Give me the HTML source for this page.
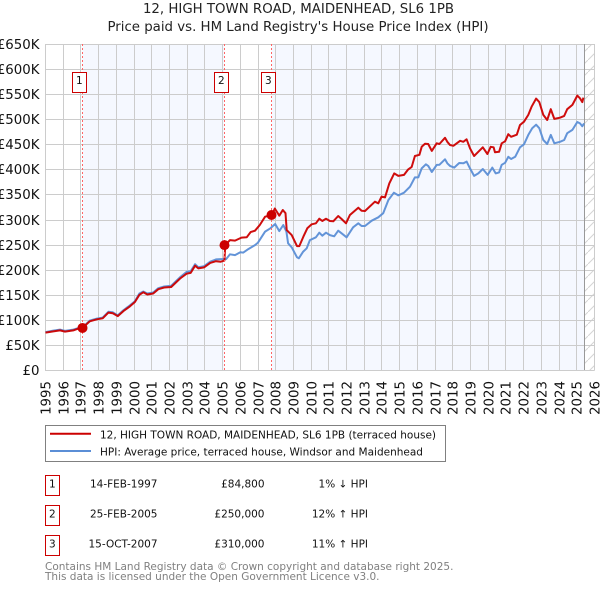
<!DOCTYPE html>
<html lang="en">
<head>
<meta charset="utf-8">
<title>12, High Town Road, Maidenhead price chart</title>
<style>
html,body{margin:0;padding:0;background:#fff;width:600px;height:590px;overflow:hidden}
svg{display:block;font-family:"DejaVu Sans","Liberation Sans",sans-serif}
</style>
</head>
<body>
<svg id="chart" xmlns="http://www.w3.org/2000/svg" width="600" height="590" viewBox="0 0 600 590">
<defs>
<pattern id="hatch" width="12" height="12" patternUnits="userSpaceOnUse">
<path d="M0 12 L12 0" stroke="#d4d4d4" stroke-width="1" fill="none"/>
</pattern>
</defs>
<rect width="600" height="590" fill="#fff"/>
<text x="298.5" y="13" font-size="13.33" text-anchor="middle" fill="#222">12, HIGH TOWN ROAD, MAIDENHEAD, SL6 1PB</text>
<text x="298" y="31" font-size="13.33" text-anchor="middle" fill="#222">Price paid vs. HM Land Registry's House Price Index (HPI)</text>
<g id="bands"></g>
<g id="grid"></g>
<g id="ylabels"></g>
<g id="xlabels"></g>
<g id="series"></g>
<g id="sales"></g>

<g>
<rect x="45.5" y="425.5" width="400" height="36" fill="#fff" stroke="#808080" stroke-width="1"/>
<line x1="50" x2="91" y1="433.7" y2="433.7" stroke="#cc0000" stroke-width="2"/>
<line x1="50" x2="91" y1="451" y2="451" stroke="#5b8ed6" stroke-width="2"/>
<text x="100" y="438.3" font-size="10.5" fill="#111">12, HIGH TOWN ROAD, MAIDENHEAD, SL6 1PB (terraced house)</text>
<text x="100" y="455.3" font-size="10.5" fill="#111">HPI: Average price, terraced house, Windsor and Maidenhead</text>
</g>

<g font-size="10.5" fill="#111">
<g>
<rect x="45.5" y="475.5" width="14" height="20" fill="#fff" stroke="#cc0000" stroke-width="1"/>
<text x="52.3" y="487.3" text-anchor="middle">1</text>
<text x="157.5" y="487.3" text-anchor="end">14-FEB-1997</text>
<text x="264.5" y="487.3" text-anchor="end">£84,800</text>
<text x="368" y="487.3" text-anchor="end">1% ↓ HPI</text>
</g>
<g>
<rect x="45.5" y="505.5" width="14" height="20" fill="#fff" stroke="#cc0000" stroke-width="1"/>
<text x="52.3" y="517.3" text-anchor="middle">2</text>
<text x="157.5" y="517.3" text-anchor="end">25-FEB-2005</text>
<text x="264.5" y="517.3" text-anchor="end">£250,000</text>
<text x="368" y="517.3" text-anchor="end">12% ↑ HPI</text>
</g>
<g>
<rect x="45.5" y="535.5" width="14" height="20" fill="#fff" stroke="#cc0000" stroke-width="1"/>
<text x="52.3" y="547.3" text-anchor="middle">3</text>
<text x="157.5" y="547.3" text-anchor="end">15-OCT-2007</text>
<text x="264.5" y="547.3" text-anchor="end">£310,000</text>
<text x="368" y="547.3" text-anchor="end">11% ↑ HPI</text>
</g>
</g>

<text x="45" y="570" font-size="10.5" fill="#808080">Contains HM Land Registry data © Crown copyright and database right 2025.</text>
<text x="45" y="580" font-size="10.5" fill="#808080">This data is licensed under the Open Government Licence v3.0.</text>
</svg>

<script>
var yearTicks = [1995,1996,1997,1998,1999,2000,2001,2002,2003,2004,2005,2006,2007,2008,2009,2010,2011,2012,2013,2014,2015,2016,2017,2018,2019,2020,2021,2022,2023,2024,2025,2026];
var priceTicks = [0,50,100,150,200,250,300,350,400,450,500,550,600,650];
var priceTickLabels = ["£0","£50K","£100K","£150K","£200K","£250K","£300K","£350K","£400K","£450K","£500K","£550K","£600K","£650K"];

var paidDates = [1995.0,1995.44,1995.82,1996.1,1996.57,1996.85,1997.12,1997.25,1997.5,1997.9,1998.23,1998.55,1998.8,1999.08,1999.4,1999.77,2000.05,2000.3,2000.52,2000.75,2001.08,2001.37,2001.7,2002.1,2002.6,2002.97,2003.2,2003.45,2003.63,2003.95,2004.3,2004.63,2004.9,2005.1,2005.15,2005.42,2005.7,2006.07,2006.36,2006.58,2006.83,2007.1,2007.4,2007.79,2007.95,2008.2,2008.4,2008.55,2008.62,2008.9,2009.2,2009.33,2009.56,2009.78,2010.03,2010.27,2010.46,2010.63,2010.84,2011.06,2011.25,2011.53,2011.72,2011.97,2012.19,2012.66,2012.85,2013.04,2013.6,2013.79,2013.98,2014.17,2014.41,2014.69,2014.92,2015.24,2015.48,2015.68,2015.86,2016.11,2016.24,2016.43,2016.61,2016.81,2017.09,2017.24,2017.56,2017.69,2017.84,2018.03,2018.41,2018.59,2018.78,2018.97,2019.2,2019.44,2019.69,2019.95,2020.14,2020.3,2020.38,2020.61,2020.76,2020.95,2021.13,2021.29,2021.61,2021.79,2022.02,2022.26,2022.45,2022.7,2022.88,2023.11,2023.33,2023.53,2023.73,2024.05,2024.29,2024.46,2024.75,2025.03,2025.18,2025.31,2025.37];
var paidValues = [75.5,78,80,77.5,80,83.5,84.8,90,98,102,104,115.5,114,108.5,118.5,128,136.5,151,156,151.5,153.5,162,165.5,166.5,183.5,193,194.5,209,203.5,205.5,214.5,218,217,219,250,260,259,265,265.6,276,278.8,290,306.7,310,323,308.7,320,313.5,280,270,248,248,267,283.5,291.5,293.5,302.7,298,302.7,298,297.5,308,302,293.5,310,324.6,318.6,318,336.6,333.4,346.6,345,373,393,388,390,401,406,427.7,430,446,452,451.6,437.7,453,451.6,464,456,449.6,448,458,456,461,443,427.7,436,445,431.7,446,445,435,436,453,457,471,466,470,489.5,496,509.5,526,542,535,509.5,499.5,521,501.5,504,507.5,521,529.5,548,542.7,535,544];

var hpiDates = [1995.0,1995.44,1995.82,1996.1,1996.57,1996.85,1997.12,1997.25,1997.5,1997.9,1998.23,1998.55,1998.8,1999.08,1999.4,1999.77,2000.05,2000.3,2000.52,2000.75,2001.08,2001.37,2001.7,2002.1,2002.6,2002.97,2003.2,2003.45,2003.63,2003.95,2004.3,2004.63,2004.9,2005.2,2005.42,2005.7,2006.0,2006.17,2006.45,2006.83,2007.0,2007.4,2007.7,2007.97,2008.2,2008.43,2008.6,2008.7,2008.9,2009.2,2009.3,2009.55,2009.75,2009.93,2010.27,2010.46,2010.63,2010.84,2011.06,2011.3,2011.53,2011.72,2012.0,2012.37,2012.66,2012.85,2013.04,2013.42,2013.79,2014.07,2014.36,2014.67,2014.92,2015.24,2015.58,2015.86,2016.05,2016.24,2016.48,2016.61,2016.81,2017.09,2017.24,2017.56,2017.69,2017.84,2018.08,2018.36,2018.59,2018.78,2018.97,2019.2,2019.44,2019.69,2019.97,2020.23,2020.42,2020.61,2020.76,2020.95,2021.13,2021.29,2021.52,2021.79,2022.02,2022.26,2022.48,2022.7,2022.88,2023.11,2023.33,2023.53,2023.73,2024.05,2024.29,2024.46,2024.75,2025.03,2025.18,2025.31,2025.41];
var hpiValues = [76.5,79.5,81.5,79,81.5,84.5,85.6,91,99.5,103.5,105.5,117,116,110,120,130,138,153.5,157.5,153.5,155.5,164,167.5,169,186,196.5,198,212,206,208,217,221.5,222,222,231.7,230,235.6,235,242,250,255,277,283.5,292,278,290,277,253.6,245.6,225.7,223.7,237,243.6,260,265.6,274.8,268.8,274.8,270,267.6,278.8,273.6,265.6,285.5,293.5,288,288,298.7,305.5,313.5,340,354.5,349,354.5,366.5,385,385,403,411,407.8,395.8,409.8,410,421,413,407.8,404.5,413.7,413,416.5,403,388,393,401.8,390,404.5,393,395,410,414,426,421.7,426,445,451,469.6,483,490,483,459.6,451.6,469.6,453,456,459.6,473,479.6,495.5,492.7,487,492.7];

var saleDates = [1997.12,2005.15,2007.79];
var salePrices = [84.8,250,310];
var saleLabels = ["1","2","3"];
var lastDataDate = 2025.45;

var NS = "http://www.w3.org/2000/svg";
var plotLeft = 45, plotRight = 594, plotTop = 44, plotBottom = 370;
function xRaw(year){ return 45 + (year - 1995) * 17.71; }
function xScale(year){ return xRaw(year) + 0.5; }
function yRaw(value){ return 370 - value * 0.5016; }
function yScale(value){ return yRaw(value) + 0.5; }
function make(tag, attrs, parent){
  var el = document.createElementNS(NS, tag);
  for (var k in attrs) el.setAttribute(k, attrs[k]);
  parent.appendChild(el);
  return el;
}
function pathFrom(dates, values){
  return dates.map(function(d, i){
    return (i ? "L" : "M") + xScale(d).toFixed(1) + " " + yScale(values[i]).toFixed(1);
  }).join(" ");
}

var bands = document.getElementById("bands");
var grid = document.getElementById("grid");
var ylabels = document.getElementById("ylabels");
var xlabels = document.getElementById("xlabels");
var series = document.getElementById("series");
var sales = document.getElementById("sales");

var xFirst = Math.floor(xRaw(saleDates[0])) + 0.5;
var xSecond = Math.floor(xRaw(saleDates[1])) + 0.5;
var xThird = Math.floor(xRaw(saleDates[2])) + 0.5;
var xEnd = Math.floor(xRaw(lastDataDate)) + 0.5;

var band1 = make("rect", {x:xFirst, y:plotTop, width:xSecond - xFirst, height:plotBottom - plotTop, fill:"#f5f8ff"}, bands);


var band2 = make("rect", {x:xThird, y:plotTop, width:xEnd - xThird, height:plotBottom - plotTop, fill:"#f5f8ff"}, bands);


var hatchArea = make("rect", {x:xEnd, y:plotTop, width:plotRight - xEnd, height:plotBottom - plotTop, fill:"url(#hatch)"}, bands);



yearTicks.forEach(function(year){
  var px = Math.round(xRaw(year)) + 0.5;
  var line = make("line", {x1:px, x2:px, y1:plotTop, y2:plotBottom + 0.5, stroke:"#cccccc", "stroke-width":1}, grid);
  
  
  var label = make("text", {x:0, y:0, "font-size":13.33, fill:"#111", "text-anchor":"end",
    transform:"translate(" + (px + 5) + " 381) rotate(-90)"}, xlabels);
  
  
  label.textContent = String(year);
});
priceTicks.forEach(function(value, i){
  var py = Math.round(yRaw(value)) + 0.5;
  var line = make("line", {x1:plotLeft, x2:plotRight + 0.5, y1:py, y2:py, stroke:"#cccccc", "stroke-width":1}, grid);
  
  
  var label = make("text", {x:39.5, y:py + 4.5, "font-size":13.33, fill:"#111", "text-anchor":"end"}, ylabels);
  
  
  label.textContent = priceTickLabels[i];
});
var endLine = make("line", {x1:xEnd, x2:xEnd, y1:plotTop, y2:plotBottom, stroke:"#999999", "stroke-width":1}, grid);



var hpiLine = make("path", {d:pathFrom(hpiDates, hpiValues), fill:"none", stroke:"#5b8ed6", "stroke-width":2, "stroke-linejoin":"round", opacity:0.95}, series);


var paidLine = make("path", {d:pathFrom(paidDates, paidValues), fill:"none", stroke:"#cc0000", "stroke-width":2, "stroke-linejoin":"round", opacity:0.95}, series);



saleDates.forEach(function(date, i){
  var px = Math.floor(xRaw(date)) + 0.5;
  var rule = make("line", {x1:px, x2:px, y1:plotTop, y2:plotBottom, stroke:"#ff6666", "stroke-width":1, "stroke-dasharray":"2 2"}, sales);
  
  
  var dot = make("circle", {cx:px, cy:yScale(salePrices[i]), r:5, fill:"#cc0000"}, sales);
  
  
  var badge = make("rect", {x:px - 10, y:72.5, width:14, height:20, fill:"#fff", stroke:"#cc0000", "stroke-width":1}, sales);
  
  
  var num = make("text", {x:px - 3.2, y:84, "font-size":10.5, fill:"#111", "text-anchor":"middle"}, sales);
  
  
  num.textContent = saleLabels[i];
});
</script>
</body>
</html>
